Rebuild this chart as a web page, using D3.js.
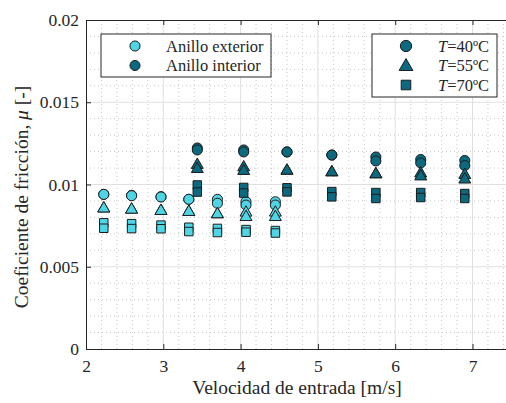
<!DOCTYPE html>
<html>
<head>
<meta charset="utf-8">
<script src="https://cdn.jsdelivr.net/npm/d3@7"></script>
<style>
  body { margin: 0; background: #fff; }
  text { font-family: "Liberation Serif", "Times New Roman", serif; fill: #262626; }
</style>
</head>
<body>
<div class="chart"></div>
<script>
// velocities [m/s] for each ring
const vOuter = [2.23, 2.59, 2.97, 3.33, 3.70, 4.07, 4.45];
const vInner = [3.44, 4.04, 4.60, 5.18, 5.75, 6.33, 6.90];

// friction coefficient, two runs per point
const outerT40 = [[0.0094, 0.0094], [0.00934, 0.00932], [0.00926, 0.00924], [0.0091, 0.0091], [0.0091, 0.00886], [0.00895, 0.00875], [0.00895, 0.00875]];
const outerT55 = [[0.0086, 0.0086], [0.00853, 0.00853], [0.00845, 0.00845], [0.00839, 0.00839], [0.00825, 0.00825], [0.00835, 0.00808], [0.00835, 0.00808]];
const outerT70 = [[0.00767, 0.00734], [0.00762, 0.00732], [0.00753, 0.00731], [0.0074, 0.00714], [0.00733, 0.00708], [0.00726, 0.0071], [0.0072, 0.00705]];

const innerT40 = [[0.01222, 0.0121], [0.0121, 0.01198], [0.01198, 0.01198], [0.01179, 0.01179], [0.01167, 0.01143], [0.01152, 0.01131], [0.01146, 0.01115]];
const innerT55 = [[0.01125, 0.011], [0.0111, 0.01088], [0.0109, 0.0109], [0.0108, 0.0108], [0.01068, 0.01068], [0.01073, 0.01055], [0.01064, 0.01036]];
const innerT70 = [[0.00997, 0.00954], [0.00982, 0.00948], [0.0098, 0.00955], [0.00957, 0.00925], [0.00951, 0.00915], [0.00951, 0.00921], [0.00945, 0.00915]];

const xTicks = [2, 3, 4, 5, 6, 7];
const yTicks = [0, 0.005, 0.01, 0.015, 0.02];
const yTickLabels = ["0", "0.005", "0.01", "0.015", "0.02"];

const ringNames = ["Anillo exterior", "Anillo interior"];
const tempNames = ["40ºC", "55ºC", "70ºC"];

const colOuter = "#4fd6e6";
const colInner = "#0b6a80";
const edge = "#1c1c1c";

const W = 506, H = 403;
const mLeft = 86, mTop = 20, mBottom = 349;

const svg = d3.select(".chart").append("svg")
  .attr("width", W)
  .attr("height", H);

const x = d3.scaleLinear().domain([2, 7.5]).range([mLeft, mLeft + 5.5 * 77.3]);
const y = d3.scaleLinear().domain([0, 0.02]).range([mBottom, mTop]);
const mRight = x(7.5);

// minor grid (dotted)
const g = svg.append("g");
d3.range(2.2, 7.5, 0.2).forEach(v => {
  if (Math.abs(v - Math.round(v)) < 0.01) return;
  g.append("line").attr("x1", x(v)).attr("x2", x(v)).attr("y1", mTop).attr("y2", mBottom)
    .attr("stroke", "#c8c8c8").attr("stroke-width", 1).attr("stroke-dasharray", "1,3");
});
d3.range(0.001, 0.02, 0.001).forEach(v => {
  if (Math.abs(v / 0.005 - Math.round(v / 0.005)) < 0.01) return;
  g.append("line").attr("x1", mLeft).attr("x2", mRight).attr("y1", y(v)).attr("y2", y(v))
    .attr("stroke", "#c8c8c8").attr("stroke-width", 1).attr("stroke-dasharray", "1,3");
});
// major grid
xTicks.slice(1).forEach(v => {
  g.append("line").attr("x1", x(v)).attr("x2", x(v)).attr("y1", mTop).attr("y2", mBottom)
    .attr("stroke", "#e0e0e0").attr("stroke-width", 1);
});
yTicks.slice(1, -1).forEach(v => {
  g.append("line").attr("x1", mLeft).attr("x2", mRight).attr("y1", y(v)).attr("y2", y(v))
    .attr("stroke", "#e0e0e0").attr("stroke-width", 1);
});

// axes (ticks inward)
const xAxis = svg.append("g").attr("transform", `translate(0,${mBottom})`)
  .call(d3.axisBottom(x).tickValues(xTicks).tickSize(-5).tickPadding(11).tickFormat(d3.format("d")));
const xAxisTop = svg.append("g").attr("transform", `translate(0,${mTop})`)
  .call(d3.axisTop(x).tickValues(xTicks).tickSize(-5).tickFormat(""));
const yAxis = svg.append("g").attr("transform", `translate(${mLeft},0)`)
  .call(d3.axisLeft(y).tickValues(yTicks).tickSize(-5).tickPadding(7).tickFormat((d, i) => yTickLabels[i]));

[xAxis, xAxisTop, yAxis].forEach(a => {
  a.selectAll("path").attr("stroke", "#262626").attr("stroke-width", 1);
  a.selectAll("line").attr("stroke", "#262626");
  a.selectAll("text").style("font-size", "17.5px").attr("fill", "#262626");
});

// markers
const sym = [d3.symbolCircle, d3.symbolTriangle, d3.symbolSquare];
const symSize = [80, 62, 72];

function drawRing(vel, series, fill) {
  series.forEach((ser, k) => {
    const pts = [];
    ser.forEach((pair, i) => pair.forEach(val => pts.push({ v: vel[i], mu: val })));
    svg.append("g").selectAll("path").data(pts).enter().append("path")
      .attr("d", d3.symbol().type(sym[k]).size(symSize[k]))
      .attr("transform", d => `translate(${x(d.v)},${y(d.mu) + (k === 1 ? 1 : 0)})`)
      .attr("fill", fill)
      .attr("stroke", edge)
      .attr("stroke-width", 1);
  });
}
drawRing(vOuter, [outerT40, outerT55, outerT70], colOuter);
drawRing(vInner, [innerT40, innerT55, innerT70], colInner);

// labels
svg.append("text")
  .attr("x", 297).attr("y", 394)
  .attr("text-anchor", "middle")
  .style("font-size", "19.5px")
  .text("Velocidad de entrada [m/s]");

const yl = svg.append("text")
  .attr("transform", `translate(28,197) rotate(-90)`)
  .attr("text-anchor", "middle")
  .style("font-size", "19.5px");
yl.append("tspan").text("Coeficiente de fricción, ");
yl.append("tspan").style("font-style", "italic").text("μ");
yl.append("tspan").text(" [-]");

// legend 1: rings
const l1 = svg.append("g");
l1.append("rect").attr("x", 101).attr("y", 34).attr("width", 170).attr("height", 43)
  .attr("fill", "#fff").attr("stroke", "#262626").attr("stroke-width", 1);
[colOuter, colInner].forEach((c, i) => {
  l1.append("path").attr("d", d3.symbol().type(d3.symbolCircle).size(80)())
    .attr("transform", `translate(135,${46 + i * 19.5})`)
    .attr("fill", c).attr("stroke", edge);
  l1.append("text").attr("x", 166).attr("y", 46 + i * 19.5 + 5.5)
    .style("font-size", "16.5px").text(ringNames[i]);
});

// legend 2: temperatures
const l2 = svg.append("g");
l2.append("rect").attr("x", 372).attr("y", 34).attr("width", 125).attr("height", 63)
  .attr("fill", "#fff").attr("stroke", "#262626").attr("stroke-width", 1);
tempNames.forEach((t, i) => {
  l2.append("path").attr("d", d3.symbol().type(sym[i]).size(symSize[i] + 20)())
    .attr("transform", `translate(406,${46 + i * 19.5 + (i === 1 ? 1 : 0)})`)
    .attr("fill", colInner).attr("stroke", edge);
  const tx = l2.append("text").attr("x", 438).attr("y", 46 + i * 19.5 + 5.5)
    .style("font-size", "16.5px");
  tx.append("tspan").style("font-style", "italic").text("T");
  tx.append("tspan").text("=" + t);
});
</script>
</body>
</html>
